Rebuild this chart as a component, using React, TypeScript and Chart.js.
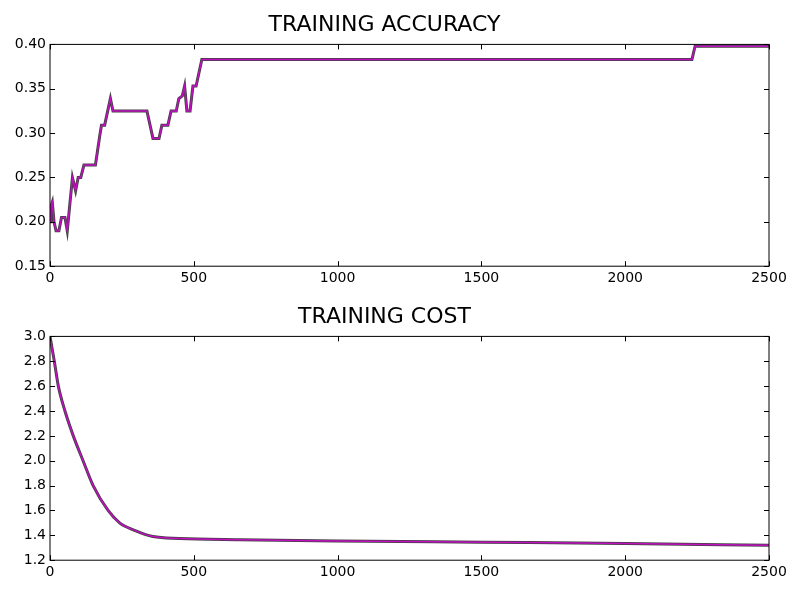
import React, { useRef, useEffect } from 'react'
import { Chart, registerables } from 'chart.js'

Chart.register(...registerables)

// training accuracy (iteration, accuracy)
const accIter = [0, 3, 8, 14, 21, 31, 40, 52, 60, 78, 89, 98, 107, 118, 158, 173, 179, 190, 210, 219, 337, 358, 379, 389, 410, 421, 439, 448, 460, 468, 476, 487, 497, 508, 528, 2232, 2243, 2500]
const accVals = [0.2, 0.217, 0.222, 0.2, 0.19, 0.19, 0.205, 0.205, 0.19, 0.25, 0.235, 0.25, 0.25, 0.264, 0.264, 0.297, 0.309, 0.309, 0.339, 0.325, 0.325, 0.294, 0.294, 0.309, 0.309, 0.325, 0.325, 0.339, 0.342, 0.353, 0.325, 0.325, 0.353, 0.353, 0.383, 0.383, 0.398, 0.398]

// training cost (iteration, cost)
const costIter = [0, 3, 15, 29, 52, 81, 115, 150, 202, 242, 294, 358, 450, 658, 1000, 1500, 2000, 2500]
const costVals = [3.0, 2.96, 2.8, 2.6, 2.4, 2.2, 2.0, 1.8, 1.6, 1.5, 1.44, 1.39, 1.375, 1.365, 1.355, 1.345, 1.335, 1.32]

const xTicks = [0, 500, 1000, 1500, 2000, 2500]

const FONT = 'DejaVu Sans'

const boxPlugin = {
	id: 'box',
	afterDraw(chart: any) {
		const { ctx, chartArea: a, scales } = chart
		ctx.save()
		ctx.strokeStyle = '#000'
		ctx.lineWidth = 1
		ctx.strokeRect(a.left, a.top, a.right - a.left, a.bottom - a.top)
		ctx.beginPath()
		scales.x.ticks.forEach((t: any) => {
			const px = Math.round(scales.x.getPixelForValue(t.value)) + 0.5
			ctx.moveTo(px, a.bottom); ctx.lineTo(px, a.bottom - 5)
			ctx.moveTo(px, a.top); ctx.lineTo(px, a.top + 5)
		})
		scales.y.ticks.forEach((t: any) => {
			const py = Math.round(scales.y.getPixelForValue(t.value)) + 0.5
			ctx.moveTo(a.left, py); ctx.lineTo(a.left + 5, py)
			ctx.moveTo(a.right, py); ctx.lineTo(a.right - 5, py)
		})
		ctx.stroke()
		ctx.restore()
	},
}

const Panel: React.FC<{
	title: string
	xs: number[]
	ys: number[]
	yMin: number
	yMax: number
	yStep: number
	digits: number
	smooth: boolean
	height: number
}> = ({ title, xs, ys, yMin, yMax, yStep, digits, smooth, height }) => {
	const ref = useRef<HTMLCanvasElement | null>(null)

	useEffect(() => {
		if (!ref.current) return
		const pts = xs.map((x, i) => ({ x, y: ys[i] }))
		const curve = smooth ? { cubicInterpolationMode: 'monotone' as const } : { tension: 0 }
		const chart = new Chart(ref.current, {
			type: 'line',
			data: {
				datasets: [
					{ data: pts, borderColor: '#c010c0', borderWidth: 1.5, pointRadius: 0, ...curve },
					{ data: pts, borderColor: '#404040', borderWidth: 3, pointRadius: 0, ...curve },
				],
			},
			options: {
				animation: false,
				responsive: false,
				layout: { padding: { top: 6, right: 31, left: 0, bottom: 0 } },
				plugins: {
					legend: { display: false },
					tooltip: { enabled: false },
					title: {
						display: true,
						text: title,
						color: '#000',
						font: { family: FONT, size: 22, weight: 'normal' },
						padding: { top: 0, bottom: 6 },
					},
				},
				scales: {
					x: {
						type: 'linear',
						min: 0,
						max: 2500,
						afterBuildTicks: (s: any) => { s.ticks = xTicks.map(v => ({ value: v })) },
						ticks: {
							color: '#000',
							font: { family: FONT, size: 14 },
							padding: 4,
							maxRotation: 0,
							callback: (v: any) => String(v),
						},
						grid: { display: false, drawTicks: false },
						border: { display: false },
					},
					y: {
						min: yMin,
						max: yMax,
						afterFit: (s: any) => { s.width = 50 },
						ticks: {
							stepSize: yStep,
							color: '#000',
							font: { family: FONT, size: 14 },
							padding: 4,
							callback: (v: any) => Number(v).toFixed(digits),
						},
						grid: { display: false, drawTicks: false },
						border: { display: false },
					},
				},
			},
			plugins: [boxPlugin],
		})
		return () => chart.destroy()
	}, [title, xs, ys, yMin, yMax, yStep, digits, smooth, height])

	return <canvas ref={ref} width={800} height={height} style={{ display: 'block' }} />
}

export default function App() {
	useEffect(() => {
		document.body.style.margin = '0'
	}, [])
	return (
		<div style={{ width: 800, height: 600, background: '#fff' }}>
			<div style={{ height: 6 }} />
			<Panel title="TRAINING ACCURACY" xs={accIter} ys={accVals} yMin={0.15} yMax={0.4} yStep={0.05} digits={2} smooth={false} height={285} />
			<div style={{ height: 7 }} />
			<Panel title="TRAINING COST" xs={costIter} ys={costVals} yMin={1.2} yMax={3.0} yStep={0.2} digits={1} smooth={true} height={287} />
		</div>
	)
}
